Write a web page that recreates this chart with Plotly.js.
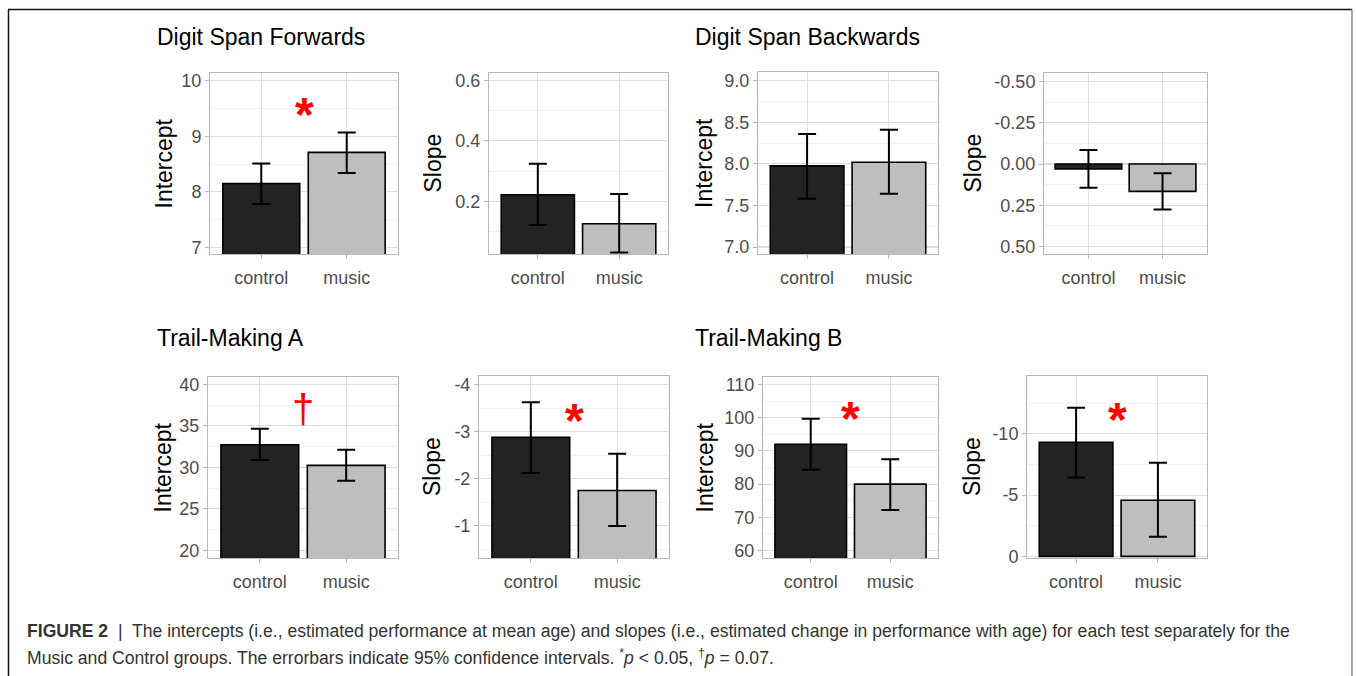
<!DOCTYPE html>
<html>
<head>
<meta charset="utf-8">
<script src="https://cdn.plot.ly/plotly-3.0.1.min.js"></script>
<style>
  html, body { margin: 0; padding: 0; background: #ffffff; }
  #chart { width: 1356px; height: 676px; }
</style>
</head>
<body>
<div id="chart"></div>
<script>
// ---------------- data ----------------
const groups = ['control', 'music'];

// Digit Span Forwards
const dsfIntercept   = [8.15, 8.71];
const dsfInterceptLo = [7.78, 8.34];
const dsfInterceptHi = [8.51, 9.07];
const dsfSlope       = [0.222, 0.126];
const dsfSlopeLo     = [0.122, 0.031];
const dsfSlopeHi     = [0.324, 0.224];

// Digit Span Backwards
const dsbIntercept   = [7.976, 8.02];
const dsbInterceptLo = [7.58, 7.64];
const dsbInterceptHi = [8.36, 8.41];
const dsbSlope       = [0.03, 0.166];
const dsbSlopeLo     = [-0.085, 0.056];
const dsbSlopeHi     = [0.144, 0.275];

// Trail-Making A
const tmaIntercept   = [32.72, 30.24];
const tmaInterceptLo = [30.89, 28.40];
const tmaInterceptHi = [34.64, 32.12];
const tmaSlope       = [-2.885, -1.75];
const tmaSlopeLo     = [-3.63, -2.53];
const tmaSlopeHi     = [-2.12, -0.99];

// Trail-Making B
const tmbIntercept   = [92.0, 80.0];
const tmbInterceptLo = [84.3, 72.2];
const tmbInterceptHi = [99.7, 87.5];
const tmbSlope       = [-9.32, -4.59];
const tmbSlopeLo     = [-12.14, -7.64];
const tmbSlopeHi     = [-6.44, -1.61];

// tick labels
const ticksDsfInt   = [7, 8, 9, 10];
const ticksDsfSlope = [0.2, 0.4, 0.6];
const ticksDsbInt   = [7.0, 7.5, 8.0, 8.5, 9.0];
const ticksDsbIntText = ['7.0', '7.5', '8.0', '8.5', '9.0'];
const ticksDsbSlope = [-0.5, -0.25, 0, 0.25, 0.5];
const ticksDsbSlopeText = ['-0.50', '-0.25', '0.00', '0.25', '0.50'];
const ticksTmaInt   = [20, 25, 30, 35, 40];
const ticksTmaSlope = [-4, -3, -2, -1];
const ticksTmaSlopeText = ['-4', '-3', '-2', '-1'];
const ticksTmbInt   = [60, 70, 80, 90, 100, 110];
const ticksTmbSlope = [-10, -5, 0];
const ticksTmbSlopeText = ['-10', '-5', '0'];

// significance marks: [panel index, y value, symbol]
const sigPanels  = [1, 5, 6, 7, 8];
const sigY       = [9.6, 36.9, -3.5, 103.3, -12.15];
const sigSymbols = ['*', '†', '*', '*', '*'];

const panelTitles = ['Digit Span Forwards', 'Digit Span Backwards', 'Trail-Making A', 'Trail-Making B'];

// ---------------- layout geometry (pixels) ----------------
const W = 1356, H = 676;
const boxes = [
  [210, 398, 73, 254],
  [489, 668, 73, 254],
  [758, 938, 72, 254],
  [1044, 1207, 73, 254],
  [208, 398, 377, 558],
  [479, 669, 376, 558],
  [763, 938, 377, 558],
  [1027, 1207, 376, 558]
];

const panels = [
  {v: dsfIntercept, lo: dsfInterceptLo, hi: dsfInterceptHi, range: [6.88, 10.14], tv: ticksDsfInt, tt: ticksDsfInt.map(String), m0: 6.5, md: 0.5, title: 'Intercept'},
  {v: dsfSlope, lo: dsfSlopeLo, hi: dsfSlopeHi, range: [0.026, 0.624], tv: ticksDsfSlope, tt: ticksDsfSlope.map(String), m0: 0, md: 0.1, title: 'Slope'},
  {v: dsbIntercept, lo: dsbInterceptLo, hi: dsbInterceptHi, range: [6.916, 9.105], tv: ticksDsbInt, tt: ticksDsbIntText, m0: 6.75, md: 0.25, title: 'Intercept'},
  {v: dsbSlope, lo: dsbSlopeLo, hi: dsbSlopeHi, range: [0.545, -0.551], tv: ticksDsbSlope, tt: ticksDsbSlopeText, m0: -0.625, md: 0.125, title: 'Slope'},
  {v: tmaIntercept, lo: tmaInterceptLo, hi: tmaInterceptHi, range: [19.09, 40.88], tv: ticksTmaInt, tt: ticksTmaInt.map(String), m0: 17.5, md: 2.5, title: 'Intercept'},
  {v: tmaSlope, lo: tmaSlopeLo, hi: tmaSlopeHi, range: [-0.31, -4.19], tv: ticksTmaSlope, tt: ticksTmaSlopeText, m0: -4.5, md: 0.5, title: 'Slope'},
  {v: tmbIntercept, lo: tmbInterceptLo, hi: tmbInterceptHi, range: [57.7, 112.3], tv: ticksTmbInt, tt: ticksTmbInt.map(String), m0: 55, md: 5, title: 'Intercept'},
  {v: tmbSlope, lo: tmbSlopeLo, hi: tmbSlopeHi, range: [0.13, -14.73], tv: ticksTmbSlope, tt: ticksTmbSlopeText, m0: -15, md: 2.5, title: 'Slope'}
];

const FONT = 'Liberation Sans, Arial, Helvetica, sans-serif';
const barColors = ['#232323', '#bebebe'];

const traces = [];
const layout = {
  width: W, height: H,
  margin: {l: 0, r: 0, t: 0, b: 0},
  paper_bgcolor: '#ffffff',
  plot_bgcolor: '#ffffff',
  showlegend: false,
  bargap: 0.1,
  font: {family: FONT, color: '#000000'},
  annotations: [],
  shapes: []
};

panels.forEach((p, i) => {
  const n = i + 1;
  const sfx = n === 1 ? '' : String(n);
  const b = boxes[i];
  traces.push({
    type: 'bar',
    x: groups,
    y: p.v,
    xaxis: 'x' + sfx,
    yaxis: 'y' + sfx,
    marker: {color: barColors, line: {color: '#000000', width: 1.6}},
    error_y: {
      type: 'data', symmetric: false,
      array: p.hi.map((h, k) => h - p.v[k]),
      arrayminus: p.v.map((val, k) => val - p.lo[k]),
      color: '#000000', thickness: 2, width: 9
    },
    hoverinfo: 'skip'
  });
  layout['xaxis' + sfx] = {
    domain: [b[0] / W, b[1] / W],
    anchor: 'y' + sfx,
    type: 'category',
    range: [-0.6, 1.6],
    showgrid: true, gridcolor: '#e0e0e0', gridwidth: 1,
    showline: true, mirror: true, linecolor: '#b8b8b8', linewidth: 1,
    ticks: 'outside', ticklen: 4, tickcolor: '#b8b8b8', tickwidth: 1,
    ticklabelstandoff: 3,
    tickfont: {family: FONT, size: 18, color: '#4d4d4d'},
    zeroline: false, fixedrange: true
  };
  layout['yaxis' + sfx] = {
    domain: [1 - b[3] / H, 1 - b[2] / H],
    anchor: 'x' + sfx,
    range: p.range,
    tickmode: 'array', tickvals: p.tv, ticktext: p.tt,
    showgrid: true, gridcolor: '#dedede', gridwidth: 1.1,
    minor: {tickmode: 'linear', tick0: p.m0, dtick: p.md, showgrid: true, gridcolor: '#ededed', gridwidth: 0.8, ticks: ''},
    showline: true, mirror: true, linecolor: '#b8b8b8', linewidth: 1,
    ticks: 'outside', ticklen: 4, tickcolor: '#b8b8b8', tickwidth: 1,
    tickfont: {family: FONT, size: 18, color: '#4d4d4d'},
    zeroline: false, fixedrange: true
  };
  // axis title as rotated text
  const titleX = [163, 432, 704, 972, 163, 432, 705, 972][i];
  layout.annotations.push({
    text: p.title, xref: 'paper', yref: 'paper',
    x: titleX / W, y: 1 - ((b[2] + b[3]) / 2) / H,
    xanchor: 'center', yanchor: 'middle', textangle: -90,
    showarrow: false, font: {family: FONT, size: 23, color: '#000000'}
  });
});

// panel titles
const titlePos = [[155, 37], [693, 37], [155, 338], [693, 338]];
panelTitles.forEach((t, k) => {
  layout.annotations.push({
    text: t, xref: 'paper', yref: 'paper',
    x: titlePos[k][0] / W, y: 1 - titlePos[k][1] / H,
    xanchor: 'left', yanchor: 'middle', showarrow: false,
    font: {family: FONT, size: 23, color: '#000000'}
  });
});

// significance markers
sigPanels.forEach((pn, k) => {
  const sfx = pn === 1 ? '' : String(pn);
  const isDagger = sigSymbols[k] === '†';
  layout.annotations.push({
    text: isDagger ? sigSymbols[k] : '<b>' + sigSymbols[k] + '</b>',
    xref: 'x' + sfx, yref: 'y' + sfx,
    x: 0.5, y: sigY[k],
    xanchor: 'center', yanchor: 'middle', showarrow: false,
    yshift: isDagger ? 1 : -12,
    font: {family: FONT, size: isDagger ? 40 : 48, color: '#ff0000'}
  });
});

// caption
layout.annotations.push({
  text: '<b>FIGURE 2</b>  |  The intercepts (i.e., estimated performance at mean age) and slopes (i.e., estimated change in performance with age) for each test separately for the',
  xref: 'paper', yref: 'paper', x: 25 / W, y: 1 - 631 / H,
  xanchor: 'left', yanchor: 'middle', showarrow: false,
  font: {family: FONT, size: 17.6, color: '#333333'}
});
layout.annotations.push({
  text: 'Music and Control groups. The errorbars indicate 95% confidence intervals. <sup>*</sup><i>p</i> &lt; 0.05, <sup>†</sup><i>p</i> = 0.07.',
  xref: 'paper', yref: 'paper', x: 25 / W, y: 1 - 657 / H,
  xanchor: 'left', yanchor: 'middle', showarrow: false,
  font: {family: FONT, size: 17.6, color: '#333333'}
});

// outer figure frame
layout.shapes.push(
  {type: 'line', xref: 'paper', yref: 'paper', x0: 8 / W, x1: 1352 / W, y0: 1 - 9.5 / H, y1: 1 - 9.5 / H, line: {color: '#111111', width: 1.5}},
  {type: 'line', xref: 'paper', yref: 'paper', x0: 8.5 / W, x1: 8.5 / W, y0: 1 - 9.5 / H, y1: 0, line: {color: '#111111', width: 1.5}},
  {type: 'line', xref: 'paper', yref: 'paper', x0: 1352 / W, x1: 1352 / W, y0: 1 - 9.5 / H, y1: 0, line: {color: '#888888', width: 1.5}}
);

Plotly.newPlot('chart', traces, layout, {displayModeBar: false, staticPlot: true});
</script>
</body>
</html>
